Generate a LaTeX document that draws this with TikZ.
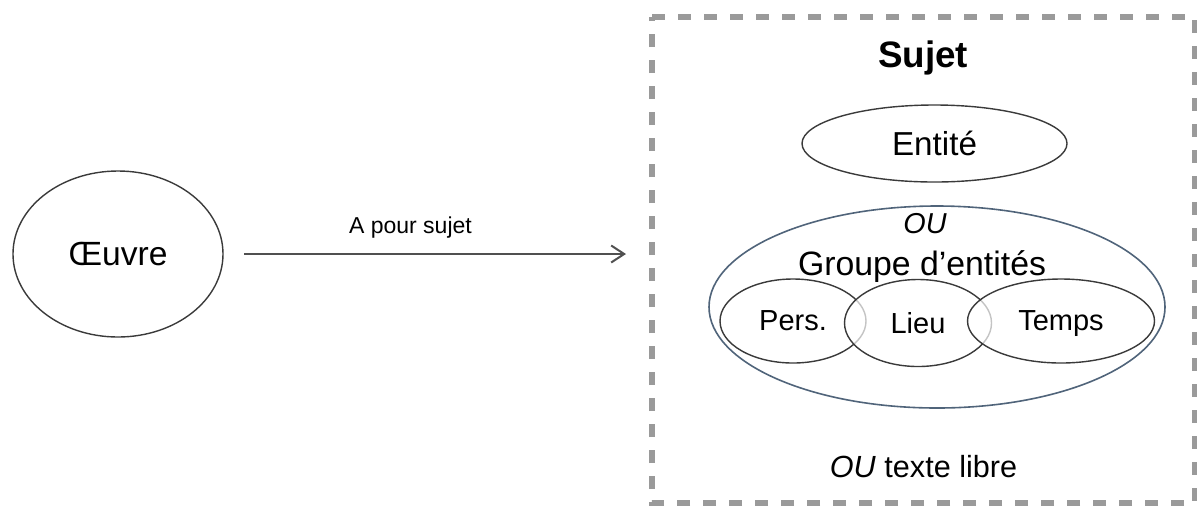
\documentclass[tikz,border=0pt]{standalone}
\usepackage{fontspec}
\setmainfont{Liberation Sans}
\usetikzlibrary{shapes.geometric,arrows.meta}
\definecolor{edgegray}{HTML}{3A3A3A}
\definecolor{slate}{HTML}{50647A}
\definecolor{dashgray}{HTML}{9A9A9A}
\definecolor{arrowgray}{HTML}{505050}
\newcommand{\fsz}[1]{\fontsize{#1}{#1}\selectfont}
\begin{document}
\begin{tikzpicture}[x=0.5pt,y=-0.5pt,
  ell/.style={draw=edgegray, line width=0.7pt, ellipse, inner sep=0pt, outer sep=0pt},
  venn/.style={ell, fill=white, fill opacity=0.7, text opacity=1, text depth=0pt},
  lbl/.style={inner sep=0pt, anchor=base},
  dashbox/.style={draw=dashgray, line width=3.4pt, dash pattern=on 6.5pt off 6.5pt},
  arr/.style={draw=arrowgray, line width=1pt, -{Straight Barb[length=6.5pt,width=8.5pt]}}]
\useasboundingbox (0,0) rectangle (1197,505);
% left entity
\node[ell, minimum width=105pt, minimum height=83pt] (oeuvre) at (118,254) {\fsz{16.8}Œuvre};
% subject box
\node[minimum width=271.5pt, minimum height=243pt, inner sep=0pt, outer sep=0pt] (sujetbox) at (923.5,260) {};
\draw[dashbox] (sujetbox.north west) -- (sujetbox.north east) -- (sujetbox.south east) -- (sujetbox.south west) -- cycle;
\node[lbl] (sujet) at (923,67) {\fsz{18.4}\bfseries Sujet};
\node[ell, minimum width=132.5pt, minimum height=38.5pt] (entite) at (934.5,143.5) {\fsz{16.6}Entité};
\node[draw=slate, line width=0.8pt, ellipse, minimum width=228pt, minimum height=101pt, inner sep=0pt, outer sep=0pt] (groupe) at (937,307) {};
\node[lbl] (ou1) at (925,233) {\fsz{14.4}\itshape OU};
\node[lbl] (groupelbl) at (922,275) {\fsz{16.9}Groupe d’entités};
\node[venn, minimum width=73pt, minimum height=42pt] (pers) at (793,321) {\fsz{14.5}Pers.};
\node[venn, minimum width=73.5pt, minimum height=43.5pt] (lieu) at (918,323) {\fsz{14.5}Lieu};
\node[venn, minimum width=93.5pt, minimum height=42pt] (temps) at (1061,321) {\fsz{14.5}Temps};
\node[lbl] (libre) at (923.5,477) {\fsz{15.3}\textit{OU} texte libre};
% connector
\draw[arr, shorten <=10.5pt, shorten >=13pt] (oeuvre.east) -- (oeuvre.east -| sujetbox.west)
  node[pos=0.437, anchor=base, yshift=10.5pt, inner sep=0pt, text=black] (relation) {\fsz{11.5}A pour sujet};
\end{tikzpicture}
\end{document}
